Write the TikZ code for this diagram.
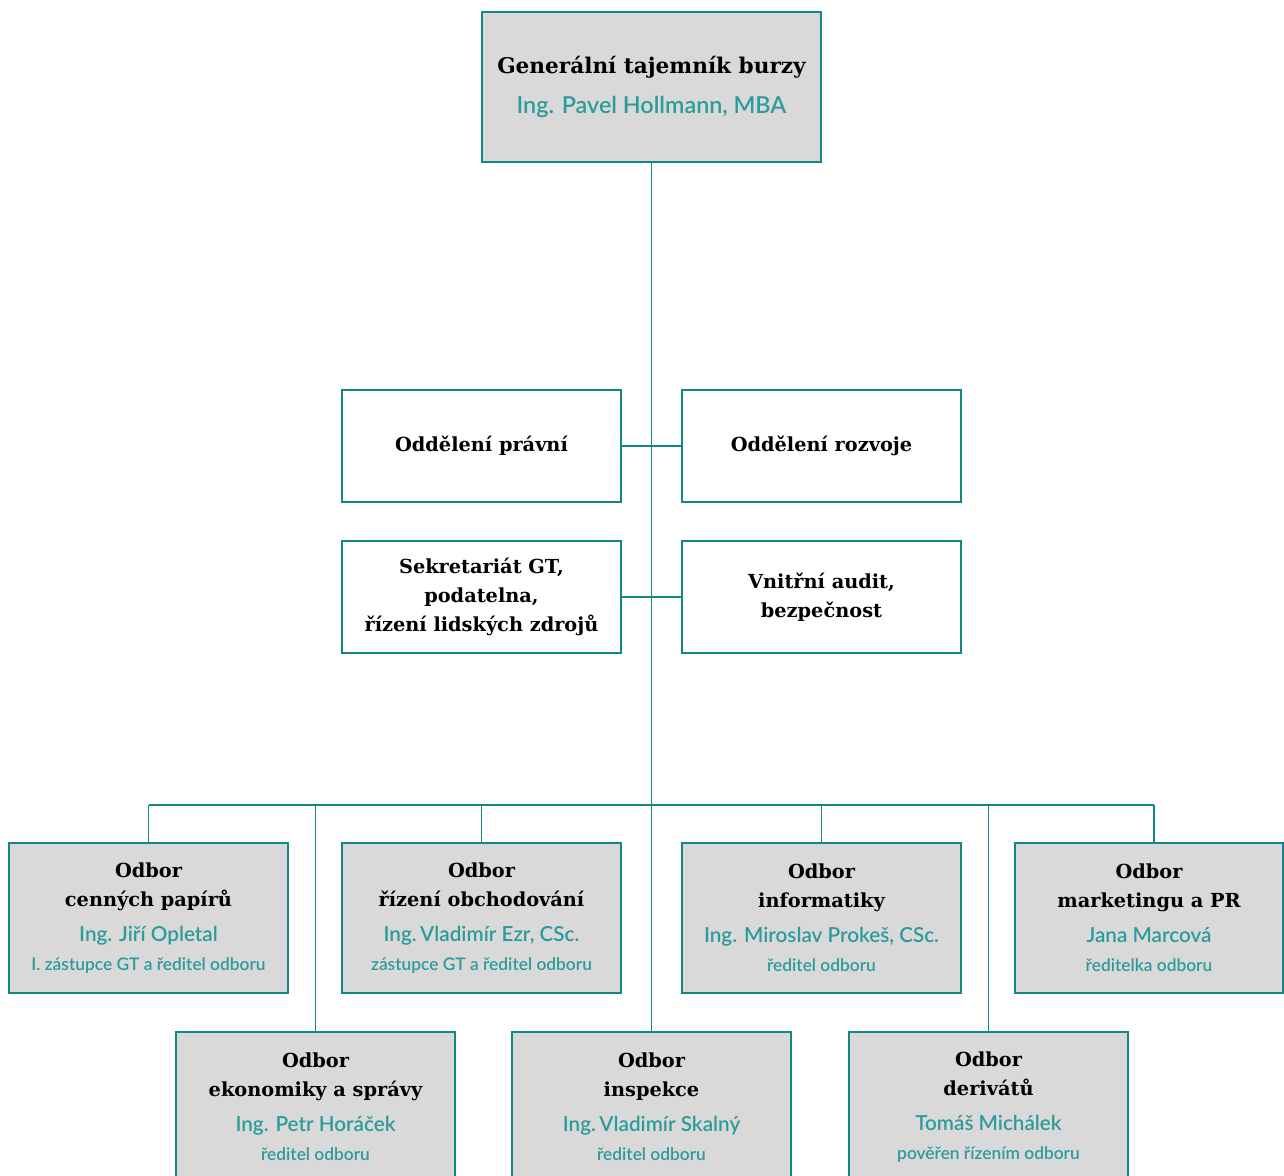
\documentclass[tikz,border=0pt]{standalone}
\usepackage{fontspec}
\setmainfont{DejaVu Serif}
\IfFontExistsTF{Lato Light}{\newfontfamily\gillsans{Lato Light}}{\newfontfamily\gillsans{Lato}}

\definecolor{lineteal}{RGB}{20,135,135}
\definecolor{nameteal}{RGB}{45,155,155}
\definecolor{boxgray}{RGB}{217,217,217}

\newcommand{\titlefont}{\fontsize{14.5}{21.75}\selectfont\bfseries}
\newcommand{\namefont}{\gillsans\fontsize{15.5}{21.75}\selectfont\color{nameteal}}
\newcommand{\rolefont}{\gillsans\fontsize{13}{21.75}\selectfont\color{nameteal}}
\newcommand{\odbor}[3]{Odbor\\#1\\[4.5pt]{\namefont #2}\\{\rolefont #3}}

\begin{document}
\begin{tikzpicture}[x=0.75pt,y=-0.75pt,
    spoj/.style={draw=lineteal,line width=1.1pt},
    ramec/.style={draw=lineteal,line width=1.1pt,align=center,inner sep=0pt,
      font=\titlefont,minimum width=209.25pt},
    utvar/.style={ramec,fill=boxgray,minimum height=112.5pt},
    oddeleni/.style={ramec,fill=white,minimum height=84pt}]
  \clip (0,0) rectangle (1284,1175);%

  % generalni tajemnik
  \node[utvar,minimum width=254.25pt,font=\fontsize{16.2}{21.75}\selectfont\bfseries] (gt) at (651.5,87) {Generální tajemník burzy\\[8pt]{\namefont\fontsize{17.5}{21.75}\selectfont Ing. Pavel Hollmann, MBA}};%

  % oddeleni u kmene
  \node[oddeleni] (pravni) at (481.5,446) {Oddělení právní};%
  \node[oddeleni] (rozvoj) at (821.5,446) {Oddělení rozvoje};%
  \node[oddeleni] (sekr) at (481.5,597) {Sekretariát GT,\\podatelna,\\řízení lidských zdrojů};%
  \node[oddeleni] (audit) at (821.5,597) {Vnitřní audit,\\bezpečnost};%

  % odbory, horni rada
  \node[utvar] (cp) at (148.5,918) {\odbor{cenných papírů}{Ing. Jiří Opletal}{I. zástupce GT a ředitel odboru}};%
  \node[utvar] (obch) at (481.5,918) {\odbor{řízení obchodování}{Ing.\,Vladimír Ezr, CSc.}{zástupce GT a ředitel odboru}};%
  \node[utvar] (inf) at (821.5,918) {\odbor{informatiky}{Ing. Miroslav Prokeš, CSc.}{ředitel odboru}};%
  \node[utvar,minimum width=201pt] (mkt) at (1149,918) {\odbor{marketingu a PR}{Jana Marcová}{ředitelka odboru}};%

  % odbory, dolni rada
  \node[utvar] (eko) at (315.5,1107) {\odbor{ekonomiky a správy}{Ing. Petr Horáček}{ředitel odboru}};%
  \node[utvar] (insp) at (651.5,1107) {\odbor{inspekce}{Ing.\,Vladimír Skalný}{ředitel odboru}};%
  \node[utvar] (der) at (988.5,1107) {\odbor{derivátů}{Tomáš Michálek}{pověřen řízením odboru}};%

  \coordinate (busL) at (148.5,805);%
  \coordinate (busR) at (1154,805);%

  \draw[spoj] (gt.south) -- (insp.north);%
  \draw[spoj] (pravni.east) -- (rozvoj.west);%
  \draw[spoj] (sekr.east) -- (audit.west);%
  \draw[spoj] (busL) -- (busR);%

  \draw[spoj] (busL) -- (cp.north);%
  \draw[spoj] (obch.north) -- (obch.north |- busL);%
  \draw[spoj] (inf.north) -- (inf.north |- busL);%
  \draw[spoj] (busR) -- (mkt.north -| busR);%
  \draw[spoj] (eko.north) -- (eko.north |- busL);%
  \draw[spoj] (der.north) -- (der.north |- busL);%
\end{tikzpicture}
\end{document}
